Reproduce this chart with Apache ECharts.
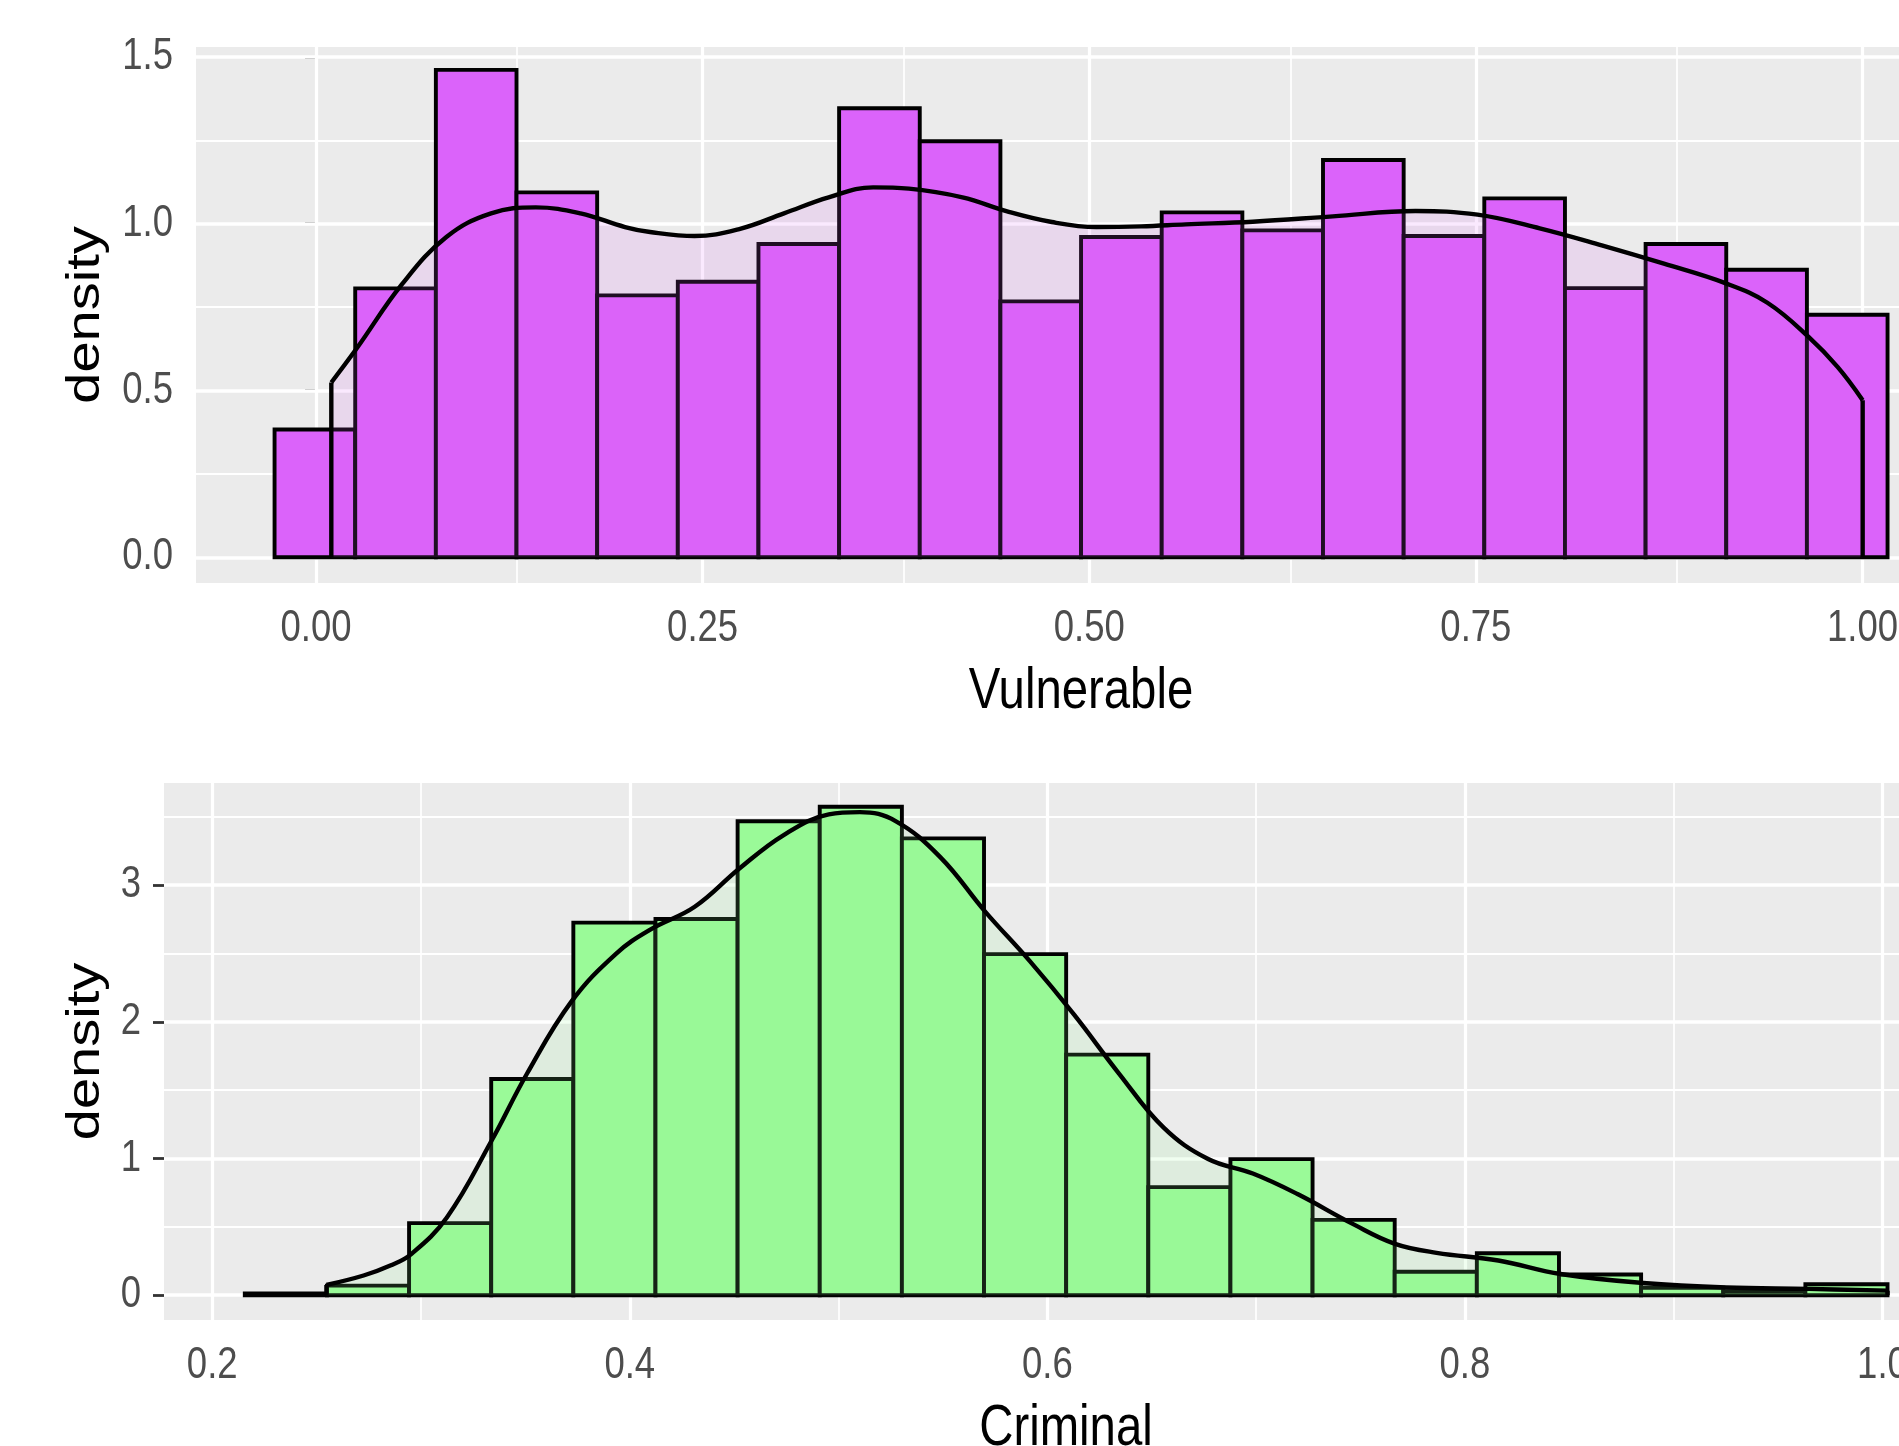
<!DOCTYPE html>
<html>
<head>
<meta charset="utf-8">
<script src="https://cdn.jsdelivr.net/npm/echarts@6/dist/echarts.min.js"></script>
<style>
  html, body { margin: 0; padding: 0; background: #ffffff; }
  #chart { width: 1899px; height: 1446px; }
</style>
</head>
<body>
<div id="chart"></div>
<script>
// ---------- Top panel: Vulnerable ----------
const topBinStart = -0.0268;
const topBinWidth = 0.05215;
const topHeights = [0.383, 0.806, 1.461, 1.094, 0.785, 0.826, 0.939, 1.346, 1.247, 0.767,
                    0.960, 1.034, 0.980, 1.191, 0.963, 1.076, 0.807, 0.939, 0.862, 0.727];
const topDensX = [0.0099, 0.0266, 0.0555, 0.0843, 0.1132, 0.1421, 0.1710, 0.1998, 0.2160, 0.2448,
                  0.2737, 0.3026, 0.3315, 0.3603, 0.3834, 0.4180, 0.4469, 0.4758, 0.5046, 0.5335,
                  0.5624, 0.6057, 0.6575, 0.7110, 0.7511, 0.7913, 0.8314, 0.8716, 0.9117, 0.9385,
                  0.9653, 0.9840, 1.0001];
const topDensY = [0.524, 0.628, 0.818, 0.960, 1.031, 1.049, 1.031, 0.990, 0.975, 0.963,
                  0.984, 1.031, 1.079, 1.109, 1.105, 1.079, 1.037, 1.005, 0.990, 0.992,
                  0.998, 1.006, 1.022, 1.038, 1.027, 0.986, 0.935, 0.880, 0.821, 0.763,
                  0.660, 0.570, 0.471];
const topXTicks = [0, 0.25, 0.5, 0.75, 1.0];
const topXTickLabels = ['0.00', '0.25', '0.50', '0.75', '1.00'];
const topXMinor = [0.125, 0.375, 0.625, 0.875];
const topYTicks = [0, 0.5, 1.0, 1.5];
const topYTickLabels = ['0.0', '0.5', '1.0', '1.5'];
const topYMinor = [0.25, 0.75, 1.25];
const topXRange = [-0.0776, 1.0236];
const topYRange = [-0.0771, 1.5297];

// ---------- Bottom panel: Criminal ----------
const botBinStart = 0.2156;
const botBinWidth = 0.03934;
const botHeights = [0.013, 0.070, 0.527, 1.582, 2.726, 2.753, 3.468, 3.574, 3.343, 2.496,
                    1.760, 0.791, 0.996, 0.551, 0.171, 0.307, 0.151, 0.054, 0.030, 0.080];
const botDensX = [0.2547, 0.2725, 0.2853, 0.2950, 0.3123, 0.3337, 0.3508, 0.3721, 0.3935, 0.4098,
                  0.4311, 0.4525, 0.4739, 0.4953, 0.5102, 0.5273, 0.5488, 0.5701, 0.5915, 0.6129,
                  0.6343, 0.6557, 0.6770, 0.6984, 0.7198, 0.7467, 0.7665, 0.7864, 0.8160, 0.8458,
                  0.8854, 0.9251, 0.9648, 1.0024];
const botDensY = [0.075, 0.144, 0.217, 0.297, 0.567, 1.128, 1.622, 2.150, 2.500, 2.675,
                  2.842, 3.122, 3.369, 3.518, 3.535, 3.469, 3.204, 2.809, 2.446, 2.051,
                  1.622, 1.226, 0.996, 0.890, 0.740, 0.518, 0.376, 0.310, 0.254, 0.155,
                  0.089, 0.056, 0.046, 0.033];
const botXTicks = [0.2, 0.4, 0.6, 0.8, 1.0];
const botXTickLabels = ['0.2', '0.4', '0.6', '0.8', '1.0'];
const botXMinor = [0.3, 0.5, 0.7, 0.9];
const botYTicks = [0, 1, 2, 3];
const botYTickLabels = ['0', '1', '2', '3'];
const botYMinor = [0.5, 1.5, 2.5, 3.5];
const botXRange = [0.1769, 1.0079];
const botYRange = [-0.1816, 3.748];

const titles = { topX: 'Vulnerable', botX: 'Criminal', y: 'density' };

// ---------- styling ----------
const FONT = "'Liberation Sans', Arial, sans-serif";
const SQUEEZE = 0.83;            // the reference is horizontally compressed
const panelBg = '#EBEBEB';
const topFill = '#DB63FA';
const topDensFill = 'rgba(218,98,250,0.2)';
const botFill = '#9AFA98';
const botDensFill = 'rgba(152,251,152,0.2)';
const BAR_STROKE = 3.9;
const DENS_STROKE = 4.4;

function binData(start, width, heights) {
  return heights.map((h, i) => [start + i * width, start + (i + 1) * width, h]);
}
function pairs(xs, ys) { return xs.map((x, i) => [x, ys[i]]); }

function histSeries(gi, data, fill) {
  return {
    type: 'custom', xAxisIndex: gi, yAxisIndex: gi, z: 2, silent: true,
    animation: false,
    renderItem: function (params, api) {
      const p0 = api.coord([api.value(0), 0]);
      const p1 = api.coord([api.value(1), api.value(2)]);
      return {
        type: 'rect',
        shape: { x: p0[0], y: p1[1], width: p1[0] - p0[0], height: p0[1] - p1[1] },
        style: { fill: fill, stroke: '#000000', lineWidth: BAR_STROKE }
      };
    },
    encode: { x: [0, 1], y: 2 },
    data: data
  };
}

function gridLineSeries(gi, xMajor, xMinor, yMajor, yMinor) {
  const d = [];
  xMinor.forEach(v => d.push({ xAxis: v, lineStyle: { color: '#FFFFFF', width: 1.7, type: 'solid' } }));
  yMinor.forEach(v => d.push({ yAxis: v, lineStyle: { color: '#FFFFFF', width: 1.9, type: 'solid' } }));
  xMajor.forEach(v => d.push({ xAxis: v, lineStyle: { color: '#FFFFFF', width: 3.2, type: 'solid' } }));
  yMajor.forEach(v => d.push({ yAxis: v, lineStyle: { color: '#FFFFFF', width: 3.6, type: 'solid' } }));
  return {
    type: 'line', xAxisIndex: gi, yAxisIndex: gi, z: 1, silent: true, animation: false,
    data: [],
    markLine: {
      z: 1, silent: true, animation: false, symbol: ['none', 'none'],
      label: { show: false }, emphasis: { disabled: true },
      data: d
    }
  };
}

function densitySeries(gi, xs, ys, fill) {
  return {
    type: 'line', xAxisIndex: gi, yAxisIndex: gi, z: 3, silent: true, animation: false,
    data: pairs(xs, ys), smooth: 0.4, showSymbol: false, symbol: 'none',
    lineStyle: { color: '#000000', width: DENS_STROKE },
    areaStyle: { color: fill, origin: 0 }
  };
}

function edgeSeries(gi, xs, ys) {
  const n = xs.length - 1;
  return [
    { type: 'line', xAxisIndex: gi, yAxisIndex: gi, z: 3, silent: true, animation: false,
      data: [[xs[0], 0], [xs[0], ys[0]]], showSymbol: false, symbol: 'none',
      lineStyle: { color: '#000000', width: DENS_STROKE } },
    { type: 'line', xAxisIndex: gi, yAxisIndex: gi, z: 3, silent: true, animation: false,
      data: [[xs[n], ys[n]], [xs[n], 0]], showSymbol: false, symbol: 'none',
      lineStyle: { color: '#000000', width: DENS_STROKE } }
  ];
}

function xAxisCfg(gi, range, ticks) {
  return {
    type: 'value', gridIndex: gi, min: range[0], max: range[1],
    axisLine: { show: false },
    axisTick: { show: true, length: 15, lineStyle: { color: '#333333', width: 2.8 }, customValues: ticks },
    axisLabel: { show: false, customValues: ticks },
    splitLine: { show: false }, minorSplitLine: { show: false }
  };
}
function yAxisCfg(gi, range, ticks) {
  return {
    type: 'value', gridIndex: gi, min: range[0], max: range[1],
    axisLine: { show: false },
    axisTick: { show: true, length: 11, lineStyle: { color: '#333333', width: 2.8 }, customValues: ticks },
    axisLabel: { show: false, customValues: ticks },
    splitLine: { show: false }, minorSplitLine: { show: false }
  };
}

const chart = echarts.init(document.getElementById('chart'), null, { renderer: 'canvas' });
const option = {
  backgroundColor: '#FFFFFF',
  animation: false,
  grid: [
    { left: 196, top: 47, right: 0, height: 536, show: true, backgroundColor: panelBg, borderWidth: 0 },
    { left: 164, top: 783, right: 0, height: 537, show: true, backgroundColor: panelBg, borderWidth: 0 }
  ],
  xAxis: [ xAxisCfg(0, topXRange, topXTicks), xAxisCfg(1, botXRange, botXTicks) ],
  yAxis: [ yAxisCfg(0, topYRange, topYTicks), yAxisCfg(1, botYRange, botYTicks) ],
  series: [
    gridLineSeries(0, topXTicks, topXMinor, topYTicks, topYMinor),
    histSeries(0, binData(topBinStart, topBinWidth, topHeights), topFill),
    densitySeries(0, topDensX, topDensY, topDensFill),
    ...edgeSeries(0, topDensX, topDensY),
    gridLineSeries(1, botXTicks, botXMinor, botYTicks, botYMinor),
    histSeries(1, binData(botBinStart, botBinWidth, botHeights), botFill),
    densitySeries(1, botDensX, botDensY, botDensFill),
    ...edgeSeries(1, botDensX, botDensY)
  ]
};
chart.setOption(option);

// ---------- tick labels & axis titles (placed through the axes' own scales) ----------
function px(axisType, idx, v) {
  const f = {}; f[axisType + 'Index'] = idx;
  return chart.convertToPixel(f, v);
}
const graphics = [];
function tickText(text, x, y, align, vAlign) {
  graphics.push({ type: 'text', x: x, y: y, scaleX: SQUEEZE, silent: true,
    style: { text: text, fill: '#4D4D4D', font: '44px ' + FONT, align: align, verticalAlign: vAlign } });
}
function panelLabels(gi, xTicks, xLabels, yTicks, yLabels, xRange, yRange) {
  const bottom = px('yAxis', gi, yRange[0]);
  const top = px('yAxis', gi, yRange[1]);
  const left = px('xAxis', gi, xRange[0]);
  xTicks.forEach((v, i) => tickText(xLabels[i], px('xAxis', gi, v), bottom + 24, 'center', 'top'));
  yTicks.forEach((v, i) => tickText(yLabels[i], left - 23, px('yAxis', gi, v), 'right', 'middle'));
  return { bottom, top, left };
}
const tp = panelLabels(0, topXTicks, topXTickLabels, topYTicks, topYTickLabels, topXRange, topYRange);
const bp = panelLabels(1, botXTicks, botXTickLabels, botYTicks, botYTickLabels, botXRange, botYRange);

// ggplot centres each x title on the full panel, which continues past the picture's right edge
graphics.push(
  { type: 'text', x: 1081, y: tp.bottom + 109, scaleX: SQUEEZE, silent: true,
    style: { text: titles.topX, fill: '#000000', font: '57px ' + FONT, align: 'center', verticalAlign: 'middle' } },
  { type: 'text', x: 1066, y: bp.bottom + 109, scaleX: SQUEEZE, silent: true,
    style: { text: titles.botX, fill: '#000000', font: '57px ' + FONT, align: 'center', verticalAlign: 'middle' } },
  { type: 'text', x: 86, y: (tp.top + tp.bottom) / 2, rotation: Math.PI / 2, scaleY: SQUEEZE, silent: true,
    style: { text: titles.y, fill: '#000000', font: '56px ' + FONT, align: 'center', verticalAlign: 'middle' } },
  { type: 'text', x: 86, y: (bp.top + bp.bottom) / 2, rotation: Math.PI / 2, scaleY: SQUEEZE, silent: true,
    style: { text: titles.y, fill: '#000000', font: '56px ' + FONT, align: 'center', verticalAlign: 'middle' } }
);
chart.setOption({ graphic: graphics });
</script>
</body>
</html>
